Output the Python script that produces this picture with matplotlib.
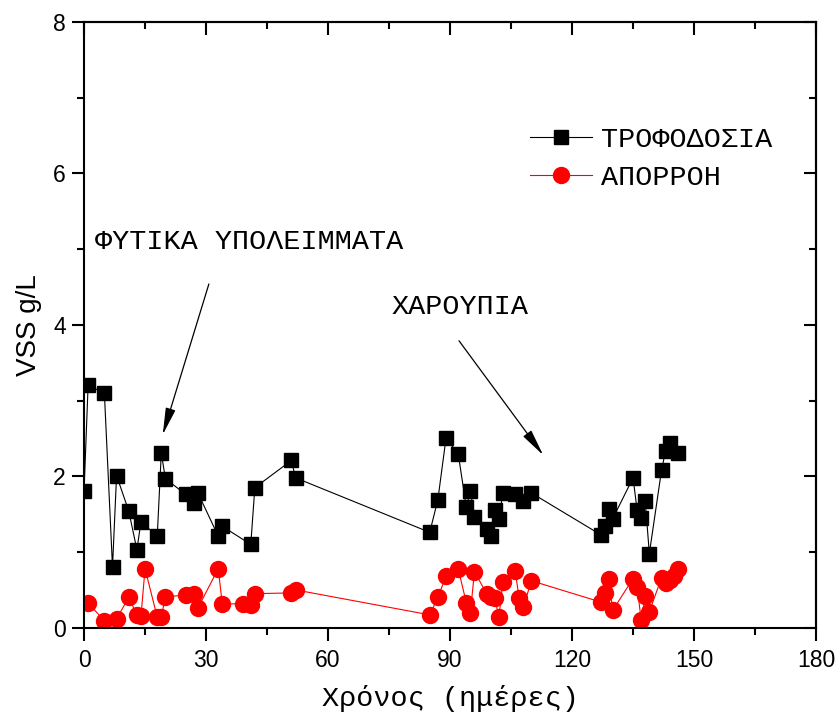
import matplotlib
matplotlib.use('Agg')
import matplotlib.pyplot as plt
from matplotlib.ticker import MultipleLocator

# feed (black squares)
feed_days = [0, 1, 5, 7, 8, 11, 13, 14, 18, 19, 20, 25, 27, 28, 33, 34, 41, 42, 51, 52,
             85, 87, 89, 92, 94, 95, 96, 99, 100, 101, 102, 103, 106, 108, 110,
             127, 128, 129, 130, 135, 136, 137, 138, 139, 142, 143, 144, 146]
feed_vss = [1.80, 3.20, 3.10, 0.80, 2.01, 1.54, 1.03, 1.40, 1.21, 2.31, 1.97, 1.76, 1.65, 1.78,
            1.21, 1.34, 1.10, 1.85, 2.21, 1.98,
            1.26, 1.69, 2.50, 2.30, 1.59, 1.81, 1.46, 1.31, 1.21, 1.55, 1.44, 1.78, 1.77, 1.67, 1.78,
            1.23, 1.34, 1.57, 1.44, 1.98, 1.55, 1.45, 1.67, 0.98, 2.08, 2.34, 2.44, 2.31]

# effluent (red circles)
eff_days = [1, 5, 8, 11, 13, 14, 15, 18, 19, 20, 25, 27, 28, 33, 34, 39, 41, 42, 51, 52,
            85, 87, 89, 92, 94, 95, 96, 99, 100, 101, 102, 103, 106, 107, 108, 110,
            127, 128, 129, 130, 135, 136, 137, 138, 139, 142, 143, 144, 145, 146]
eff_vss = [0.33, 0.09, 0.12, 0.40, 0.17, 0.15, 0.78, 0.14, 0.14, 0.41, 0.43, 0.45, 0.26, 0.78,
           0.31, 0.32, 0.30, 0.45, 0.46, 0.50,
           0.17, 0.40, 0.68, 0.78, 0.33, 0.20, 0.74, 0.45, 0.41, 0.39, 0.14, 0.61, 0.75, 0.39,
           0.27, 0.62,
           0.34, 0.46, 0.65, 0.23, 0.65, 0.54, 0.10, 0.42, 0.21, 0.66, 0.59, 0.63, 0.68, 0.78]

feed_label = 'ΤΡΟΦΟΔΟΣΙΑ'
eff_label = 'ΑΠΟΡΡΟΗ'
mono = ['Liberation Mono', 'DejaVu Sans Mono']
sans = ['Liberation Sans', 'DejaVu Sans']

plt.rcParams['font.family'] = sans
plt.rcParams['xtick.labelsize'] = 16.5
plt.rcParams['ytick.labelsize'] = 16.5

fig = plt.figure(figsize=(8.37, 7.17), dpi=100)
ax = fig.add_axes([0.1004, 0.1245, 0.8746, 0.8448])

ax.plot(feed_days, feed_vss, color='black', lw=0.8, marker='s', ms=10.5,
        mec='black', mfc='black', label=feed_label)
ax.plot(eff_days, eff_vss, color='red', lw=0.8, marker='o', ms=11.5,
        mec='red', mfc='red', label=eff_label)

ax.set_xlim(0, 180)
ax.set_ylim(0, 8)
ax.xaxis.set_major_locator(MultipleLocator(30))
ax.xaxis.set_minor_locator(MultipleLocator(15))
ax.yaxis.set_major_locator(MultipleLocator(2))
ax.yaxis.set_minor_locator(MultipleLocator(1))

for sp in ax.spines.values():
    sp.set_linewidth(1.5)
ax.tick_params(which='both', direction='out', width=1.5, bottom=True, left=True)
ax.tick_params(which='major', length=9)
ax.tick_params(which='minor', length=5)
ax.tick_params(axis='x', which='major', pad=6)
ax.tick_params(axis='y', which='major', pad=4)

# mirrored inward ticks on top and right
ax_top = ax.secondary_xaxis('top')
ax_top.xaxis.set_major_locator(MultipleLocator(30))
ax_top.xaxis.set_minor_locator(MultipleLocator(15))
ax_top.tick_params(which='both', direction='in', width=1.5, labeltop=False)
ax_top.tick_params(which='major', length=9)
ax_top.tick_params(which='minor', length=5)
ax_top.spines['top'].set_linewidth(1.5)
ax_right = ax.secondary_yaxis('right')
ax_right.yaxis.set_major_locator(MultipleLocator(2))
ax_right.yaxis.set_minor_locator(MultipleLocator(1))
ax_right.tick_params(which='both', direction='in', width=1.5, labelright=False)
ax_right.tick_params(which='major', length=9)
ax_right.tick_params(which='minor', length=5)
ax_right.spines['right'].set_linewidth(1.5)

ax.set_ylabel('VSS g/L', fontsize=20, labelpad=8)
ax.set_xlabel('Χρόνος (ημέρες)', fontsize=20.5, family=mono, labelpad=10)

ax.text(2.7, 5.10, 'ΦΥΤΙΚΑ ΥΠΟΛΕΙΜΜΑΤΑ', fontsize=20.5, family=mono, va='center', ha='left')
ax.text(75.7, 4.23, 'ΧΑΡΟΥΠΙΑ', fontsize=20.5, family=mono, va='center', ha='left')
arrow = dict(arrowstyle='-|>,head_length=0.75,head_width=0.14', color='black',
             lw=0.9, mutation_scale=22, shrinkA=0, shrinkB=0)
ax.annotate('', xy=(19.35, 2.55), xytext=(30.7, 4.54), arrowprops=arrow)
ax.annotate('', xy=(112.9, 2.28), xytext=(92.2, 3.79), arrowprops=arrow)

ax.legend(loc='upper left', bbox_to_anchor=(0.609, 0.826), frameon=False,
          prop={'family': mono, 'size': 20.5}, handlelength=2.2, handletextpad=0.3,
          labelspacing=0.42, borderpad=0, borderaxespad=0)

fig.savefig('out.png', dpi=100)
